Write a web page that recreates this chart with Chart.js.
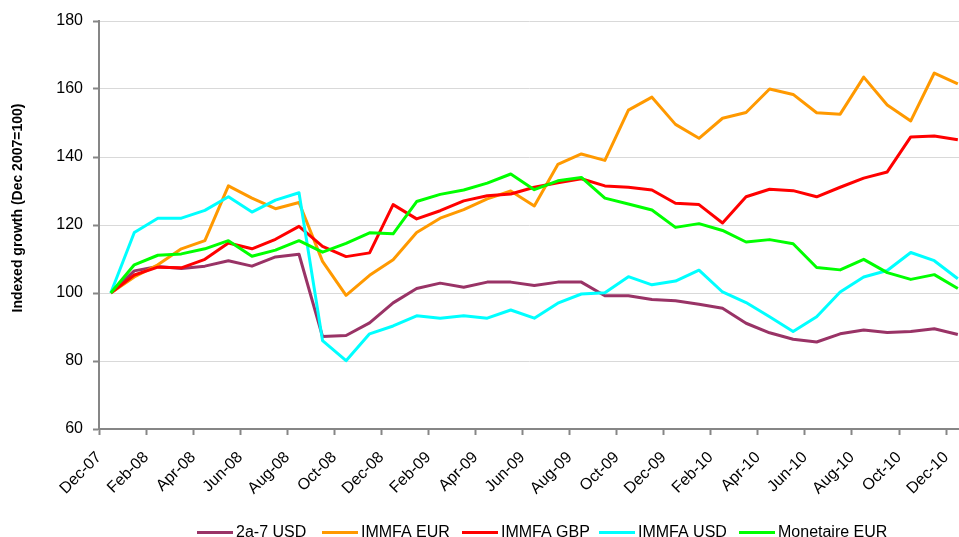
<!DOCTYPE html>
<html>
<head>
<meta charset="utf-8">
<script src="https://cdn.jsdelivr.net/npm/chart.js@4.4.0/dist/chart.umd.min.js"></script>
<style>
html,body{margin:0;padding:0;background:#fff;overflow:hidden}
canvas{display:block}
</style>
</head>
<body>
<canvas id="c" width="959" height="537"></canvas>
<script>
// ---- data ----
const months = ['Dec-07','Jan-08','Feb-08','Mar-08','Apr-08','May-08','Jun-08','Jul-08','Aug-08','Sep-08','Oct-08','Nov-08',
  'Dec-08','Jan-09','Feb-09','Mar-09','Apr-09','May-09','Jun-09','Jul-09','Aug-09','Sep-09','Oct-09','Nov-09',
  'Dec-09','Jan-10','Feb-10','Mar-10','Apr-10','May-10','Jun-10','Jul-10','Aug-10','Sep-10','Oct-10','Nov-10','Dec-10'];
const tickLabels = ['Dec-07','Feb-08','Apr-08','Jun-08','Aug-08','Oct-08','Dec-08','Feb-09','Apr-09','Jun-09',
  'Aug-09','Oct-09','Dec-09','Feb-10','Apr-10','Jun-10','Aug-10','Oct-10','Dec-10'];
const yTicks = [60, 80, 100, 120, 140, 160, 180];

const usd2a7 = [100,106.5,107.8,107.2,107.9,109.5,107.9,110.6,111.4,87.2,87.5,91.2,
  97.1,101.3,102.9,101.7,103.2,103.2,102.2,103.2,103.2,99.2,99.2,98.1,
  97.7,96.7,95.5,91.1,88.3,86.4,85.6,88.0,89.1,88.4,88.7,89.5,87.8];
const immfaEur = [100,104.7,108.3,113.0,115.4,131.5,127.9,124.8,126.6,109.3,99.3,105.2,
  109.8,117.8,122.0,124.5,127.7,130.0,125.6,137.8,140.9,139.0,153.8,157.6,
  149.6,145.5,151.4,153.1,160.0,158.4,153.0,152.6,163.5,155.3,150.6,164.7,161.5];
const immfaGbp = [100,105.3,107.6,107.4,109.9,114.7,113.0,115.8,119.6,113.7,110.7,111.8,
  126.0,121.8,124.2,127.1,128.6,129.1,131.1,132.4,133.6,131.5,131.1,130.3,
  126.4,126.0,120.6,128.3,130.5,130.1,128.3,131.1,133.8,135.6,145.9,146.2,145.1];
const immfaUsd = [100,117.8,122.0,122.0,124.3,128.3,123.8,127.3,129.5,86.0,80.1,88.0,
  90.3,93.3,92.6,93.3,92.6,95.0,92.6,97.0,99.7,100.1,104.8,102.4,
  103.5,106.7,100.3,97.2,93.0,88.7,93.0,100.3,104.7,106.6,111.9,109.5,104.2];
const monetaireEur = [100,108.3,111.1,111.5,113.0,115.4,110.8,112.6,115.4,112.0,114.6,117.7,
  117.4,126.9,129.0,130.3,132.3,135.0,130.4,133.0,134.0,127.9,126.2,124.4,
  119.3,120.4,118.4,115.0,115.7,114.5,107.5,106.8,109.9,106.0,104.0,105.4,101.3];

const seriesNames = ['2a-7 USD','IMMFA EUR','IMMFA GBP','IMMFA USD','Monetaire EUR'];
const seriesValues = [usd2a7, immfaEur, immfaGbp, immfaUsd, monetaireEur];
const seriesColors = ['#993366','#FF9900','#FF0000','#00FFFF','#00FF00'];
const yTitle = 'Indexed growth (Dec 2007=100)';

// ---- styling ----
const FONT = '"Liberation Sans", Arial, Helvetica, sans-serif';
const AXIS_GREY = '#868686';

const datasets = seriesNames.map((name, k) => ({
  label: name,
  data: seriesValues[k].map((v, i) => ({ x: i, y: v })),
  borderColor: seriesColors[k],
  backgroundColor: seriesColors[k],
  borderWidth: 3,
  pointRadius: 0,
  tension: 0,
  fill: false,
  borderJoinStyle: 'round',
  order: seriesNames.length - k
}));

const yTitlePlugin = {
  id: 'yTitle',
  afterDraw(chart) {
    const ctx = chart.ctx;
    ctx.save();
    ctx.translate(18.5, 208);
    ctx.rotate(-Math.PI / 2);
    ctx.font = 'bold 14px ' + FONT;
    ctx.fillStyle = '#000';
    ctx.textAlign = 'center';
    ctx.textBaseline = 'middle';
    ctx.fillText(yTitle, 0, 0);
    ctx.restore();
  }
};

const legendPlugin = {
  id: 'lineLegend',
  afterDraw(chart) {
    const ctx = chart.ctx;
    const starts = [197, 322, 462, 599, 739];
    ctx.save();
    ctx.font = '16px ' + FONT;
    ctx.textBaseline = 'alphabetic';
    ctx.textAlign = 'left';
    chart.data.datasets.forEach((ds, k) => {
      const x = starts[k];
      ctx.strokeStyle = ds.borderColor;
      ctx.lineWidth = 3;
      ctx.beginPath();
      ctx.moveTo(x, 532.5);
      ctx.lineTo(x + 36, 532.5);
      ctx.stroke();
      ctx.fillStyle = '#000';
      ctx.fillText(ds.label, x + 39, 536.5);
    });
    ctx.restore();
  }
};

new Chart(document.getElementById('c'), {
  type: 'line',
  data: { datasets },
  plugins: [yTitlePlugin, legendPlugin],
  options: {
    responsive: false,
    animation: false,
    devicePixelRatio: 1,
    events: [],
    layout: { autoPadding: false, padding: { top: 21, left: 0, right: 0, bottom: 0 } },
    plugins: { legend: { display: false }, tooltip: { enabled: false } },
    scales: {
      x: {
        type: 'linear',
        bounds: 'data',
        min: -0.5,
        max: 36.05,
        afterBuildTicks: s => { s.ticks = tickLabels.map((_, k) => ({ value: -0.5 + 2 * k })); },
        afterFit: s => { s.height = 108; s.paddingLeft = 0; s.paddingRight = 0; },
        ticks: {
          autoSkip: false,
          minRotation: 45,
          maxRotation: 45,
          padding: 13,
          color: '#000',
          font: { size: 16, family: FONT },
          callback: v => tickLabels[Math.round((v + 0.5) / 2)]
        },
        grid: { drawOnChartArea: false, drawTicks: true, tickLength: 6, tickColor: AXIS_GREY, tickWidth: 2 },
        border: { color: AXIS_GREY, width: 2 }
      },
      y: {
        min: yTicks[0],
        max: yTicks[yTicks.length - 1],
        afterBuildTicks: s => { s.ticks = yTicks.map(v => ({ value: v })); },
        afterFit: s => { s.width = 99; s.paddingTop = 0; s.paddingBottom = 0; },
        ticks: { padding: 10, color: '#000', font: { size: 16, family: FONT } },
        grid: { color: '#d9d9d9', lineWidth: 1, tickLength: 6, tickColor: AXIS_GREY, tickWidth: 2 },
        border: { color: AXIS_GREY, width: 2 }
      }
    }
  }
});
</script>
</body>
</html>
